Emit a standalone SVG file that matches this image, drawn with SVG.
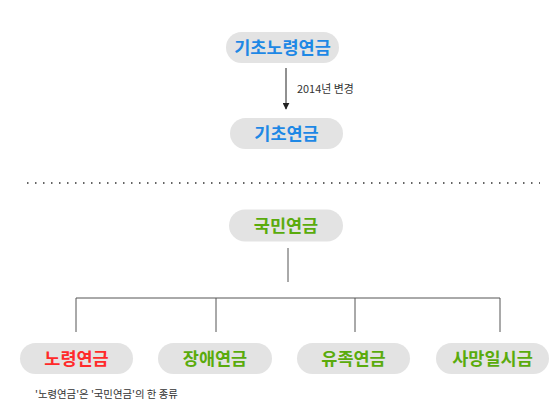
<svg xmlns="http://www.w3.org/2000/svg" width="558" height="414" viewBox="0 0 558 414">
<defs>
<style>
.pill{fill:#e3e3e3;}
.t{font-family:"Noto Sans CJK KR","Noto Sans",sans-serif;font-weight:700;font-size:17.5px;text-anchor:middle;}
.blue{fill:#1e88e5;}
.green{fill:#5aab0c;}
.red{fill:#ff2a2a;}
.lbl{font-family:"Noto Sans CJK KR","Noto Sans",sans-serif;fill:#333;}
.ln{stroke:#555;stroke-width:1;fill:none;}
</style>
<marker id="arr" viewBox="0 0 10 10" refX="9" refY="5" markerWidth="7" markerHeight="7" markerUnits="userSpaceOnUse" orient="auto">
<path d="M0,0 L10,5 L0,10 z" fill="#222"/>
</marker>
</defs>
<rect width="558" height="414" fill="#fff"/>
<g id="connectors">
<line x1="286" y1="68" x2="286" y2="109" stroke="#222" stroke-width="1" marker-end="url(#arr)"/>
<text class="lbl" x="297" y="93" font-size="10.9">2014년 변경</text>
<line x1="27" y1="183" x2="540" y2="183" stroke="#333" stroke-width="1.5" stroke-dasharray="1.5 6.5"/>
<line class="ln" x1="288" y1="248" x2="288" y2="282"/>
<polyline class="ln" points="76,332 76,298 500,298 500,332"/>
<line class="ln" x1="216" y1="298" x2="216" y2="332"/>
<line class="ln" x1="355" y1="298" x2="355" y2="332"/>
</g>
<g id="n-basic-old">
<rect class="pill" x="226" y="32" width="113" height="31" rx="15.5"/>
<text class="t blue" x="282.5" y="53.8">기초노령연금</text>
</g>
<g id="n-basic">
<rect class="pill" x="230" y="118" width="113" height="31" rx="15.5"/>
<text class="t blue" x="286.5" y="139.8">기초연금</text>
</g>
<g id="n-national">
<rect class="pill" x="229" y="209.5" width="114" height="32" rx="16"/>
<text class="t green" x="286" y="231.8">국민연금</text>
</g>
<g id="n-old">
<rect class="pill" x="20" y="343" width="113" height="31" rx="15.5"/>
<text class="t red" x="76.5" y="364.8">노령연금</text>
</g>
<g id="n-disability">
<rect class="pill" x="158" y="343" width="114" height="31" rx="15.5"/>
<text class="t green" x="215" y="364.8">장애연금</text>
</g>
<g id="n-survivor">
<rect class="pill" x="297" y="343" width="113" height="31" rx="15.5"/>
<text class="t green" x="353.5" y="364.8">유족연금</text>
</g>
<g id="n-death">
<rect class="pill" x="436" y="343" width="113" height="31" rx="15.5"/>
<text class="t green" x="492.5" y="364.8">사망일시금</text>
</g>
<text class="lbl" x="35" y="398" font-size="10.4">'노령연금'은 '국민연금'의 한 종류</text>
</svg>
